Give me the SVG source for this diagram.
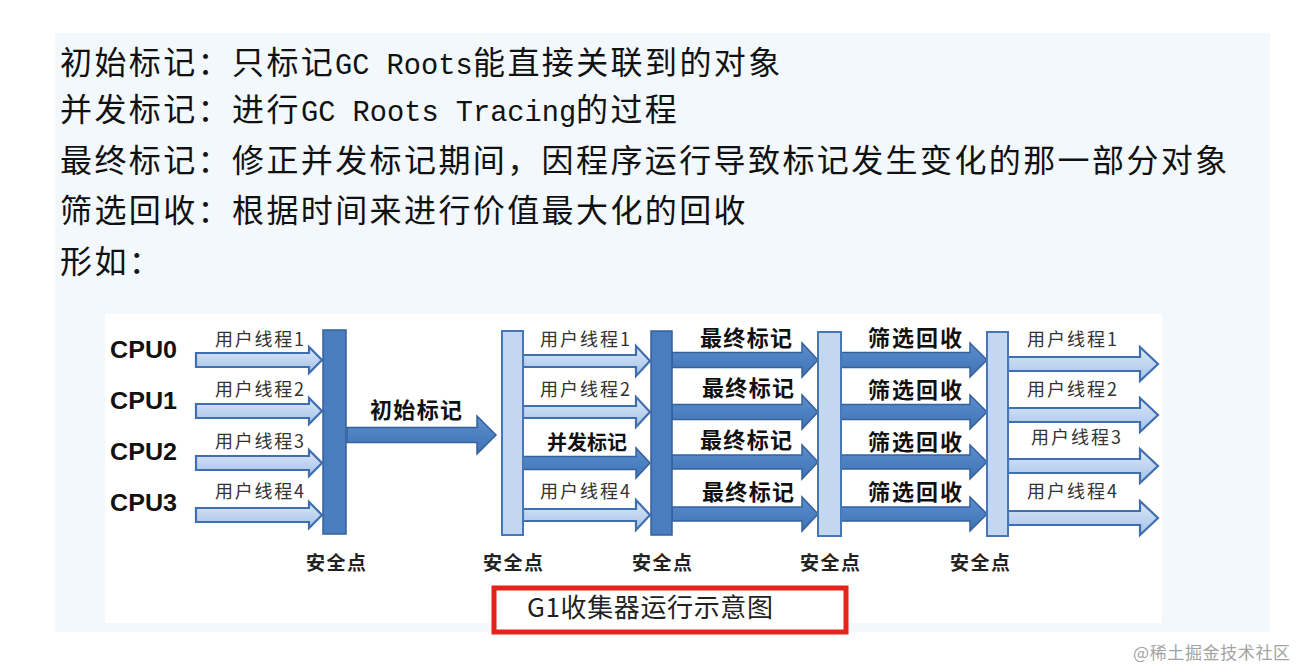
<svg xmlns="http://www.w3.org/2000/svg" width="1297" height="669" viewBox="0 0 1297 669">
<defs>
<linearGradient id="lg" x1="0" y1="0" x2="0" y2="1">
<stop offset="0" stop-color="#dde9f8"/>
<stop offset="1" stop-color="#a4c1e8"/>
</linearGradient>
<linearGradient id="dg" x1="0" y1="0" x2="0" y2="1">
<stop offset="0" stop-color="#5b8fd0"/>
<stop offset="1" stop-color="#3f72b3"/>
</linearGradient>
<style>
.top{font-family:"Noto Sans CJK SC","Noto Sans CJK JP",sans-serif;font-size:32px;fill:#111;letter-spacing:2.4px}
.lat{font-family:"Liberation Mono","DejaVu Sans Mono",monospace;font-size:28.67px;letter-spacing:0}
.cpu{font-family:"Liberation Sans",Arial,sans-serif;font-weight:700;font-size:23px;fill:#111}
.ut{font-family:"Noto Sans CJK SC",sans-serif;font-size:18px;fill:#333}
.bl{font-family:"Noto Sans CJK SC",sans-serif;font-weight:700;font-size:22px;fill:#111}
.sp{font-family:"Noto Sans CJK SC",sans-serif;font-weight:700;font-size:19px;fill:#222;text-anchor:middle}
.la{fill:url(#lg);stroke:#3f6fb0;stroke-width:2.2;stroke-linejoin:miter}
.da{fill:url(#dg);stroke:#35619c;stroke-width:1.5}
.lb{fill:#c3d7f0;stroke:#4677b8;stroke-width:2}
.db{fill:#4a7dbd;stroke:#34609a;stroke-width:1.5}
</style>
</defs>
<rect x="0" y="0" width="1297" height="669" fill="#ffffff"/>
<rect x="55" y="33" width="1215" height="599" fill="#f2f8fc"/>
<rect x="105" y="314" width="1057" height="309" fill="#ffffff"/>

<g id="intro-text">
<text class="top" y="74"><tspan x="60">初始标记：只标记</tspan><tspan class="lat" x="335">GC Roots</tspan><tspan x="473">能直接关联到的对象</tspan></text>
<text class="top" y="121"><tspan x="60">并发标记：进行</tspan><tspan class="lat" x="301">GC Roots Tracing</tspan><tspan x="576">的过程</tspan></text>
<text class="top" x="60" y="172">最终标记：修正并发标记期间，因程序运行导致标记发生变化的那一部分对象</text>
<text class="top" x="60" y="222">筛选回收：根据时间来进行价值最大化的回收</text>
<text class="top" x="60" y="273">形如：</text>
</g>

<g id="connectors">
<polygon class="la" points="196,353 309,353 309,347 322,360 309,373 309,367 196,367"/>
<polygon class="la" points="196,404 309,404 309,398 322,411 309,424 309,418 196,418"/>
<polygon class="la" points="196,456 309,456 309,450 322,463 309,476 309,470 196,470"/>
<polygon class="la" points="196,508 309,508 309,502 322,515 309,528 309,522 196,522"/>
<polygon class="da" points="347,427.5 477,427.5 477,416 496,435 477,454 477,442.5 347,442.5"/>
<polygon class="la" points="523,355 636,355 636,346 650,361 636,376 636,367 523,367"/>
<polygon class="la" points="523,406 636,406 636,397 650,412 636,427 636,418 523,418"/>
<polygon class="da" points="523,456.5 636,456.5 636,448 650,463 636,478 636,469.5 523,469.5"/>
<polygon class="la" points="523,509 636,509 636,500 650,515 636,530 636,521 523,521"/>
<polygon class="da" points="672,352.5 802,352.5 802,343 818,360 802,377 802,367.5 672,367.5"/>
<polygon class="da" points="672,404.5 802,404.5 802,395 818,412 802,429 802,419.5 672,419.5"/>
<polygon class="da" points="672,455 802,455 802,445 818,462 802,479 802,469 672,469"/>
<polygon class="da" points="672,507 802,507 802,497 818,514 802,531 802,521 672,521"/>
<polygon class="da" points="841,352.5 970,352.5 970,343 987,360 970,377 970,367.5 841,367.5"/>
<polygon class="da" points="841,404.5 970,404.5 970,395 987,412 970,429 970,419.5 841,419.5"/>
<polygon class="da" points="841,455 970,455 970,445 987,462 970,479 970,469 841,469"/>
<polygon class="da" points="841,507 970,507 970,497 987,514 970,531 970,521 841,521"/>
<polygon class="la" points="1008,357 1140,357 1140,347 1158,364 1140,381 1140,371 1008,371"/>
<polygon class="la" points="1008,408 1140,408 1140,398 1158,415 1140,432 1140,422 1008,422"/>
<polygon class="la" points="1008,459 1140,459 1140,449 1158,466 1140,483 1140,473 1008,473"/>
<polygon class="la" points="1008,511 1140,511 1140,501 1158,518 1140,535 1140,525 1008,525"/>
</g>

<g id="cpu-labels">
<text class="cpu" x="110" y="358" textLength="67" lengthAdjust="spacingAndGlyphs">CPU0</text>
<text class="cpu" x="110" y="409" textLength="67" lengthAdjust="spacingAndGlyphs">CPU1</text>
<text class="cpu" x="110" y="460" textLength="67" lengthAdjust="spacingAndGlyphs">CPU2</text>
<text class="cpu" x="110" y="511" textLength="67" lengthAdjust="spacingAndGlyphs">CPU3</text>
</g>

<g id="seg1-labels">
<text class="ut" x="215" y="346" textLength="89">用户线程1</text>
<text class="ut" x="215" y="396" textLength="89">用户线程2</text>
<text class="ut" x="215" y="448" textLength="89">用户线程3</text>
<text class="ut" x="215" y="498" textLength="89">用户线程4</text>
</g>
<g id="initial-mark-label">
<text class="bl" x="370" y="418" textLength="92">初始标记</text>
</g>
<g id="seg2-labels">
<text class="ut" x="540" y="346" textLength="90">用户线程1</text>
<text class="ut" x="540" y="396" textLength="90">用户线程2</text>
<text class="bl" x="547" y="450" textLength="80" style="font-size:20px">并发标记</text>
<text class="ut" x="540" y="498" textLength="90">用户线程4</text>
</g>
<g id="seg3-labels">
<text class="bl" x="700" y="346" textLength="92">最终标记</text>
<text class="bl" x="702" y="396" textLength="92">最终标记</text>
<text class="bl" x="700" y="448" textLength="92">最终标记</text>
<text class="bl" x="702" y="500" textLength="92">最终标记</text>
</g>
<g id="seg4-labels">
<text class="bl" x="868" y="346" textLength="94">筛选回收</text>
<text class="bl" x="868" y="398" textLength="94">筛选回收</text>
<text class="bl" x="868" y="450" textLength="94">筛选回收</text>
<text class="bl" x="868" y="500" textLength="94">筛选回收</text>
</g>
<g id="seg5-labels">
<text class="ut" x="1027" y="346" textLength="90">用户线程1</text>
<text class="ut" x="1027" y="396" textLength="90">用户线程2</text>
<text class="ut" x="1031" y="444" textLength="90">用户线程3</text>
<text class="ut" x="1027" y="498" textLength="90">用户线程4</text>
</g>

<g id="safepoint1"><rect class="db" x="323" y="330" width="23" height="204"/><text class="sp" x="336" y="570" textLength="60">安全点</text></g>
<g id="safepoint2"><rect class="lb" x="502" y="331" width="21" height="204"/><text class="sp" x="513" y="570" textLength="60">安全点</text></g>
<g id="safepoint3"><rect class="db" x="651" y="331" width="21" height="204"/><text class="sp" x="662" y="570" textLength="60">安全点</text></g>
<g id="safepoint4"><rect class="lb" x="818" y="332" width="23" height="204"/><text class="sp" x="830" y="570" textLength="60">安全点</text></g>
<g id="safepoint5"><rect class="lb" x="987" y="332" width="21" height="204"/><text class="sp" x="980" y="570" textLength="60">安全点</text></g>

<g id="caption">
<rect x="494" y="588" width="352" height="44" fill="#ffffff" stroke="#e5231b" stroke-width="5"/>
<text x="527" y="617" textLength="246" style="font-family:'Noto Sans CJK SC',sans-serif;font-size:26px;fill:#222">G1收集器运行示意图</text>
</g>

<g id="watermark">
<text x="1133" y="659" textLength="157" style="font-family:'Noto Sans CJK SC',sans-serif;font-size:17px;fill:#a3a3a3">@稀土掘金技术社区</text>
</g>
</svg>
